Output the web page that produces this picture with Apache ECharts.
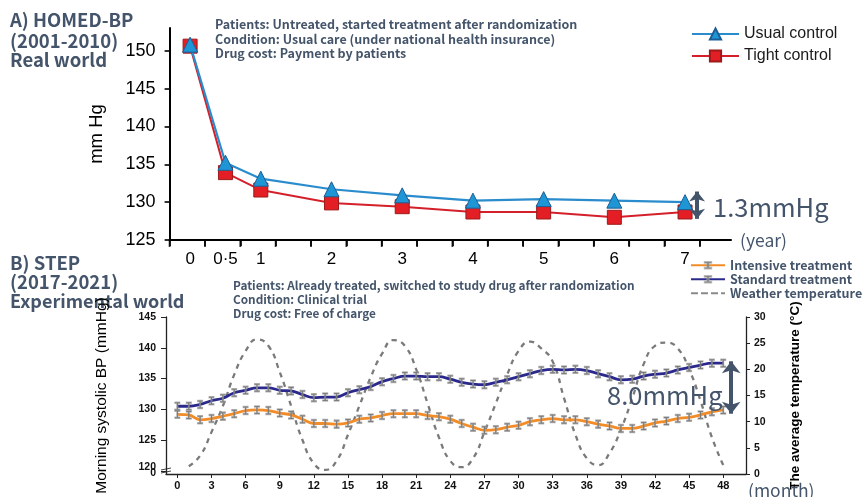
<!DOCTYPE html>
<html><head><meta charset="utf-8">
<script src="https://cdn.jsdelivr.net/npm/echarts@6/dist/echarts.min.js"></script>
<style>html,body{margin:0;padding:0;background:#fff}#c{width:864px;height:497px}</style>
</head><body><div id="c"></div>
<script>
// ---- Panel A data (HOMED-BP) ----
const yearsA   = [0, 0.5, 1, 2, 3, 4, 5, 6, 7];
const usualA   = [150.8, 135.2, 133.1, 131.7, 130.9, 130.2, 130.4, 130.2, 130.0];
const tightA   = [150.6, 133.9, 131.6, 129.9, 129.4, 128.7, 128.7, 128.0, 128.7];
const yTicksA  = [125, 130, 135, 140, 145, 150];
const xLabelsA = [0, 0.5, 1, 2, 3, 4, 5, 6, 7];
const xTicksA  = [-0.29, 0.21, 0.71, 1.21, 1.71, 2.21, 2.71, 3.21, 3.71, 4.21, 4.71, 5.21, 5.71, 6.21, 6.71, 7.21];

// ---- Panel B data (STEP) ----
const monthsB = [0,1,2,3,4,5,6,7,8,9,10,11,12,13,14,15,16,17,18,19,20,21,22,23,24,25,26,27,28,29,30,31,32,33,34,35,36,37,38,39,40,41,42,43,44,45,46,47,48];
const standardB = [130.5,130.5,130.8,131.4,131.8,132.7,133.1,133.5,133.5,133.1,133.0,132.4,131.9,132.0,132.0,132.7,133.2,133.7,134.5,135.0,135.4,135.4,135.3,
                   135.3,134.9,134.4,134.1,134.0,134.4,134.8,135.3,135.8,136.3,136.5,136.4,136.5,136.3,135.8,135.3,134.8,134.9,135.4,135.7,135.9,136.4,136.8,137.2,137.5,137.5];
const intensiveB = [129.2,129.1,128.3,128.5,128.9,129.3,129.8,129.9,129.8,129.4,129.1,128.4,127.7,127.7,127.6,127.8,128.4,128.6,129.0,129.3,129.3,129.3,129.0,
                    128.8,128.4,127.7,127.1,126.6,126.7,127.1,127.4,128.0,128.3,128.5,128.3,128.3,128.0,127.6,127.3,126.9,126.9,127.3,127.8,128.1,128.5,128.7,129.1,129.6,129.9];
const tempMonths = [1,2,3,4,5,6,7,8,9,10,11,12,13,14,15,16,17,18,19,20,21,22,23,24,25,26,27,28,29,30,31,32,33,34,35,36,37,38,39,40,41,42,43,44,45,46,47,48];
const tempB = [1.5,3.5,8,13,19,23.5,25.7,24.5,19.5,13,6.5,2,0.8,2.5,7.5,13,18.5,23,25.6,24.5,20,13.5,7,2.5,
               1.3,3,8,13.5,19,23.5,25.3,24,21.5,14.5,7.5,3,1.7,4,8.5,14.5,21,24.5,25.1,24,20,14,7,1.7];
const monthTicks = [0,3,6,9,12,15,18,21,24,27,30,33,36,39,42,45,48];
const leftTicksB = [120,125,130,135,140,145];
const leftLabelsB = [120.6,125,130,135,140,145];

const SANS = "'Liberation Sans', Arial, sans-serif";
const JP = "'Noto Sans CJK JP', 'Noto Sans', sans-serif";
const SLATE = '#44546a';

const pairs = (xs, ys) => xs.map((x, i) => [x, ys[i]]);
const ibeam = 'path://M0,0H10V2H6V14H10V16H0V14H4V2H0Z';
const dashIcon = 'path://M0,0H7V2H0Z M10,0H17V2H10Z M20,0H27V2H20Z M30,0H34V2H30Z';

function txt(text, x, y, font, fill, extra) {
  return Object.assign({type:'text', x:x, y:y, silent:true,
    style:{text:text, font:font, fill:fill||SLATE, verticalAlign:'middle', textVerticalAlign:'middle'}}, extra||{});
}

const chart = echarts.init(document.getElementById('c'), null, {renderer:'canvas'});
chart.setOption({
  animation:false,
  backgroundColor:'#fff',
  grid:[
    {left:169.6, right:133, top:28, bottom:257},
    {left:166, right:118, top:317, bottom:23}
  ],
  legend:[
    {data:['Usual control','Tight control'], orient:'vertical', left:686, top:21,
     itemWidth:47, itemHeight:14, itemGap:6, textStyle:{fontFamily:SANS, fontSize:16, color:'#1a1a1a'}},
    {data:['Intensive treatment','Standard treatment',{name:'Weather temperature', icon:dashIcon, itemStyle:{color:'#8a8a8a'}}],
     orient:'vertical', left:690, top:259,
     itemWidth:34, itemHeight:8, itemGap:1.5, padding:[0,0,0,0],
     textStyle:{fontFamily:JP, fontSize:12.5, color:SLATE, fontWeight:'bold'}}
  ],
  xAxis:[
    {type:'value', gridIndex:0, min:-0.29, max:7.65,
     axisLine:{show:true, onZero:false, lineStyle:{color:'#000', width:2}},
     axisTick:{customValues:xTicksA, length:6, lineStyle:{color:'#000', width:1.6}},
     splitLine:{show:false},
     axisLabel:{customValues:xLabelsA, margin:11, fontFamily:SANS, fontSize:17, color:'#000',
       formatter:v => String(v).replace('.', '·')}},
    {type:'value', gridIndex:1, min:-1, max:50,
     axisLine:{show:true, onZero:false, lineStyle:{color:'#222', width:1.3}},
     axisTick:{customValues:monthTicks, length:4, lineStyle:{color:'#222'}},
     splitLine:{show:false},
     axisLabel:{customValues:monthTicks, margin:6, fontFamily:SANS, fontSize:11, fontWeight:'bold', color:'#111'}}
  ],
  yAxis:[
    {type:'value', gridIndex:0, min:125, max:153, name:'mm Hg', nameLocation:'middle', nameGap:63,
     nameTextStyle:{fontFamily:SANS, fontSize:18.5, color:'#000'},
     axisLine:{show:true, onZero:false, lineStyle:{color:'#000', width:2}},
     axisTick:{customValues:yTicksA, length:5, lineStyle:{color:'#000', width:1.6}},
     splitLine:{show:false},
     axisLabel:{customValues:yTicksA, margin:14, fontFamily:SANS, fontSize:18, color:'#000'}},
    {type:'value', gridIndex:1, min:119.5, max:145, name:'Morning systolic BP (mmHg)', nameLocation:'middle', nameGap:56,
     nameTextStyle:{fontFamily:SANS, fontSize:15.5, color:'#000'},
     axisLine:{show:true, onZero:false, lineStyle:{color:'#222', width:1.3}},
     axisTick:{customValues:leftTicksB, length:5, lineStyle:{color:'#222'}},
     splitLine:{show:false},
     axisLabel:{customValues:leftLabelsB, margin:10, fontFamily:SANS, fontSize:10.5, fontWeight:'bold', color:'#111',
       formatter:v => v < 121 ? '120' : String(v)}},
    {type:'value', gridIndex:1, min:0, max:30, interval:5, position:'right',
     name:'The average temperature (°C)', nameLocation:'middle', nameGap:42, nameRotate:90,
     nameTextStyle:{fontFamily:SANS, fontSize:13.5, fontWeight:'bold', color:'#000'},
     axisLine:{show:true, onZero:false, lineStyle:{color:'#222', width:1.3}},
     axisTick:{length:4, lineStyle:{color:'#222'}},
     splitLine:{show:false},
     axisLabel:{margin:8, fontFamily:SANS, fontSize:10.5, fontWeight:'bold', color:'#111'}}
  ],
  series:[
    {name:'axisTicksA', type:'scatter', xAxisIndex:0, yAxisIndex:0, silent:true, clip:false, z:10,
     data:xTicksA.map(v => [v, yTicksA[0]]),
     symbol:'rect', symbolSize:[1.8, 7], symbolOffset:[0, 3.5],
     itemStyle:{color:'#000'}},
    {name:'Tight control', type:'line', xAxisIndex:0, yAxisIndex:0, data:pairs(yearsA, tightA),
     symbol:'rect', symbolSize:14, lineStyle:{color:'#d4202a', width:2},
     itemStyle:{color:'#e31e24', borderColor:'#9e1a1a', borderWidth:1}, z:3},
    {name:'Usual control', type:'line', xAxisIndex:0, yAxisIndex:0, data:pairs(yearsA, usualA),
     symbol:'triangle', symbolSize:15, lineStyle:{color:'#2a8ccc', width:2.2},
     itemStyle:{color:'#1e96d6', borderColor:'#1b5e95', borderWidth:1}, z:4,
     markLine:{silent:true, symbol:['arrow','arrow'], symbolSize:[12,10], label:{show:false},
       lineStyle:{color:SLATE, width:4, type:'solid'},
       data:[[{coord:[7.17, 131.4]}, {coord:[7.17, 127.8]}]]}},
    {name:'Weather temperature', type:'line', xAxisIndex:1, yAxisIndex:2, data:pairs(tempMonths, tempB),
     smooth:0.5, symbol:'none', lineStyle:{color:'#7a7a7a', width:2.3, type:[5,5]}, itemStyle:{color:'#7a7a7a'}, z:2},
    {name:'Standard treatment', type:'line', xAxisIndex:1, yAxisIndex:1, data:pairs(monthsB, standardB),
     smooth:0.4, symbol:ibeam, symbolSize:[5,8], showAllSymbol:true,
     lineStyle:{color:'#2b2a8c', width:2.8},
     itemStyle:{color:'#1a1a1a', borderColor:'rgba(160,160,160,0.75)', borderWidth:1.2}, z:3,
     markLine:{silent:true, symbol:['arrow','arrow'], symbolSize:[14,12], label:{show:false},
       lineStyle:{color:SLATE, width:4, type:'solid'},
       data:[[{coord:[48.7, 137.8]}, {coord:[48.7, 129.3]}]]}},
    {name:'Intensive treatment', type:'line', xAxisIndex:1, yAxisIndex:1, data:pairs(monthsB, intensiveB),
     smooth:0.4, symbol:ibeam, symbolSize:[5,8], showAllSymbol:true,
     lineStyle:{color:'#f28c28', width:2.8},
     itemStyle:{color:'#1a1a1a', borderColor:'rgba(160,160,160,0.75)', borderWidth:1.2}, z:3}
  ],
  graphic:[
    txt('A) HOMED-BP', 10, 20, 'bold 18.5px ' + JP),
    txt('(2001-2010)', 10, 41, 'bold 18.5px ' + JP),
    txt('Real world', 10, 60, 'bold 18.5px ' + JP),
    txt('Patients: Untreated, started treatment after randomization', 215, 24, 'bold 12.5px ' + JP),
    txt('Condition: Usual care (under national health insurance)', 215, 39, 'bold 12.5px ' + JP),
    txt('Drug cost: Payment by patients', 215, 53, 'bold 12.5px ' + JP),
    txt('1.3mmHg', 713, 207, '25.5px ' + JP),
    txt('(year)', 740, 240, '17.5px ' + JP),
    txt('B) STEP', 10, 263, 'bold 18.5px ' + JP),
    txt('(2017-2021)', 10, 282, 'bold 18.5px ' + JP),
    txt('Experimental world', 10, 301, 'bold 18px ' + JP),
    txt('Patients: Already treated, switched to study drug after randomization', 233, 286, 'bold 11.8px ' + JP),
    txt('Condition: Clinical trial', 233, 300, 'bold 11.8px ' + JP),
    txt('Drug cost: Free of charge', 233, 314, 'bold 11.8px ' + JP),
    txt('8.0mmHg', 607, 395, '25.5px ' + JP, SLATE, {z:100}),
    txt('(month)', 748, 490, '17.5px ' + JP),
    {type:'text', x:156, y:473, silent:true,
     style:{text:'0', font:'bold 10.5px ' + SANS, fill:'#111', align:'right', textAlign:'right', verticalAlign:'middle', textVerticalAlign:'middle'}},
    {type:'polyline', silent:true, shape:{points:[[161,470],[171,468]]}, style:{stroke:'#444', lineWidth:1}},
    {type:'polyline', silent:true, shape:{points:[[161,473],[171,471]]}, style:{stroke:'#444', lineWidth:1}}
  ]
});
</script></body></html>
